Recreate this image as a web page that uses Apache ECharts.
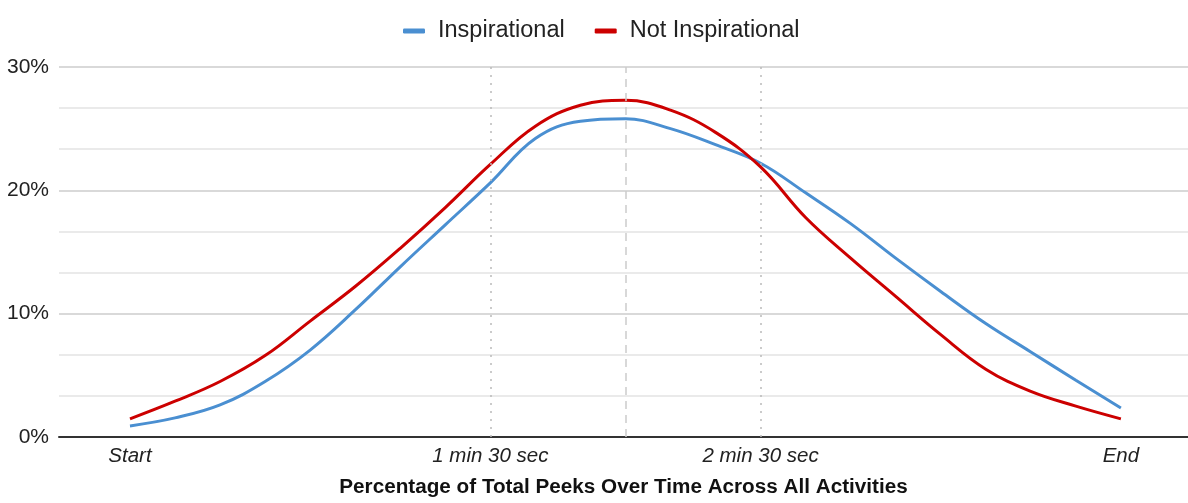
<!DOCTYPE html>
<html>
<head>
<meta charset="utf-8">
<script src="https://cdn.jsdelivr.net/npm/echarts@6/dist/echarts.min.js"></script>
<style>
html,body{margin:0;padding:0;background:#fff;overflow:hidden;}
#chart{width:100vw;height:100vh;}
</style>
</head>
<body>
<div id="chart"></div>
<script>
// Time steps (Start = 0 ... End = 22)
const steps = [0,1,2,3,4,5,6,7,8,9,10,11,12,13,14,15,16,17,18,19,20,21,22];
const tickSteps = [0, 8, 14, 22];
const tickLabels = {0: 'Start', 8: '1 min 30 sec', 14: '2 min 30 sec', 22: 'End'};
const midStep = 11;
const inspirational = [0.9,1.55,2.6,4.5,7.05,10.3,13.8,17.2,20.6,24.2,25.6,25.8,25.0,23.7,22.2,19.8,17.3,14.5,11.8,9.2,6.9,4.6,2.35];
const notInspirational = [1.47,2.9,4.5,6.6,9.4,12.2,15.3,18.6,22.1,25.2,26.9,27.3,26.5,24.7,21.9,17.8,14.5,11.4,8.3,5.5,3.7,2.5,1.47];
const seriesNames = ['Inspirational', 'Not Inspirational'];
const yTicks = [0, 10, 20, 30];
const xTitle = 'Percentage of Total Peeks Over Time Across All Activities';

const chart = echarts.init(document.getElementById('chart'));
const font = 'Liberation Sans, Arial, sans-serif';
const pairs = arr => steps.map((s, i) => [s, arr[i]]);

chart.setOption({
  animation: false,
  backgroundColor: '#fff',
  textStyle: { fontFamily: font },
  color: ['#4a8fd1', '#cc0000'],
  legend: {
    top: 14, left: 398,
    itemWidth: 22, itemHeight: 5, itemGap: 30,
    icon: 'roundRect',
    textStyle: { fontSize: 23.5, color: '#222', fontFamily: font, padding: [0, 0, 0, 8] },
    data: seriesNames
  },
  grid: { left: 59, right: 0, top: 67, bottom: 62, containLabel: false },
  xAxis: {
    type: 'value',
    min: -1.576, max: 23.49,
    name: xTitle,
    nameLocation: 'middle',
    nameGap: 40,
    nameTextStyle: { fontSize: 20.7, fontWeight: 'bold', color: '#111', fontFamily: font },
    axisLine: { show: true, onZero: false, lineStyle: { color: '#333', width: 2 } },
    axisTick: { show: false },
    splitLine: { show: false },
    axisLabel: {
      customValues: tickSteps,
      formatter: v => tickLabels[v] || '',
      fontSize: 20.5, fontStyle: 'italic', color: '#222', margin: 9, fontFamily: font
    }
  },
  yAxis: {
    type: 'value',
    min: yTicks[0], max: yTicks[yTicks.length - 1], interval: 10,
    axisLine: { show: false },
    axisTick: { show: false },
    axisLabel: { formatter: '{value}%', fontSize: 21, color: '#222', margin: 10, fontFamily: font },
    splitLine: { show: true, lineStyle: { color: '#cccccc', width: 1.5 } },
    minorTick: { show: false, splitNumber: 3 },
    minorSplitLine: { show: true, lineStyle: { color: '#e4e4e4', width: 1.5 } }
  },
  series: [
    {
      name: seriesNames[0], type: 'line', smooth: 0.4, symbol: 'none',
      lineStyle: { width: 3 }, data: pairs(inspirational), z: 3,
      markLine: {
        silent: true, symbol: 'none', label: { show: false },
        data: [
          { xAxis: tickSteps[1], lineStyle: { type: [2, 6], color: '#bbbbbb', width: 1.5 } },
          { xAxis: midStep, lineStyle: { type: [8, 6], color: '#cccccc', width: 1.5 } },
          { xAxis: tickSteps[2], lineStyle: { type: [2, 6], color: '#bbbbbb', width: 1.5 } }
        ]
      }
    },
    {
      name: seriesNames[1], type: 'line', smooth: 0.4, symbol: 'none',
      lineStyle: { width: 3 }, data: pairs(notInspirational), z: 4
    }
  ]
});
</script>
</body>
</html>
